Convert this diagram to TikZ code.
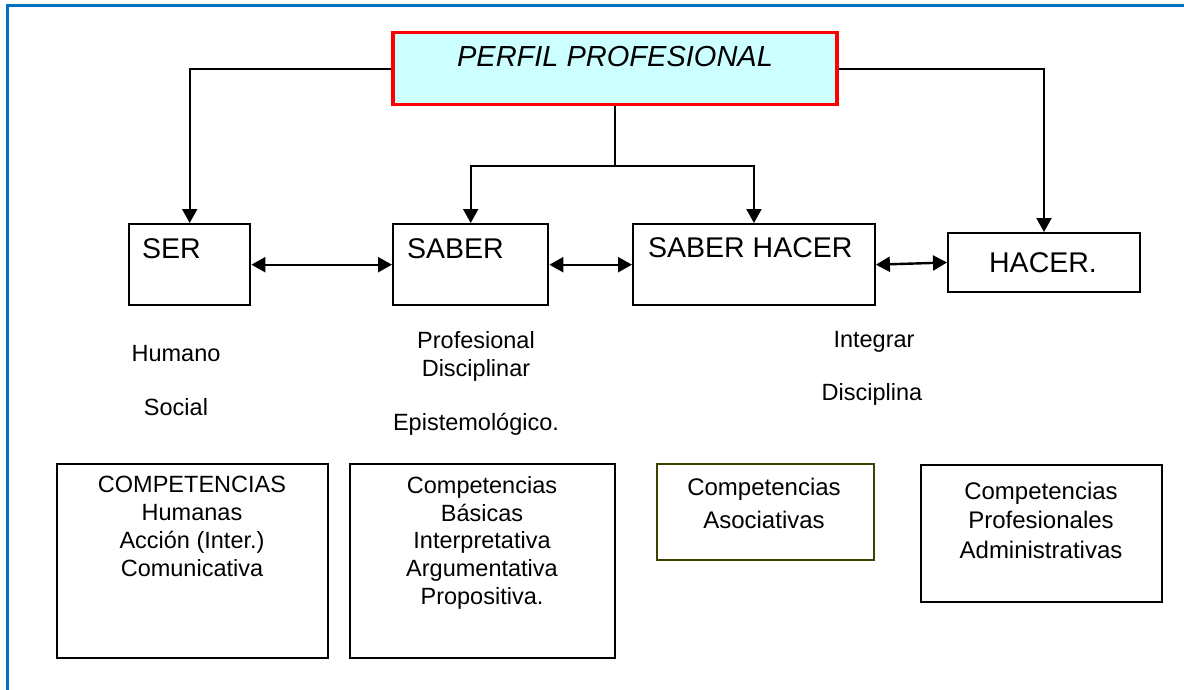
\documentclass[tikz,border=0pt]{standalone}
\usepackage{fontspec}
\setmainfont{Liberation Sans}
\usetikzlibrary{arrows.meta}
\definecolor{framecol}{RGB}{0,112,192}
\definecolor{perfilfill}{RGB}{204,255,255}
\definecolor{perfilred}{RGB}{255,0,0}
\definecolor{boxolive}{RGB}{64,64,0}
\tikzset{
  box/.style={draw, line width=2.4pt, inner sep=0pt, anchor=north west},
  head/.style={font=\fontsize{28.5}{34}\selectfont, inner sep=0pt},
  midtxt/.style={font=\fontsize{23.5}{28}\selectfont, inner sep=0pt, anchor=base},
  body/.style={font=\fontsize{23.5}{27.8}\selectfont, inner sep=0pt, align=center, anchor=north},
  bodybig/.style={inner sep=0pt, align=center, anchor=north},
  link/.style={line width=2pt},
  arr/.style={line width=2pt, -{Triangle[length=14pt,width=15pt]}},
  dbl/.style={line width=2.4pt, {Triangle[length=14pt,width=15pt]}-{Triangle[length=14pt,width=15pt]}},
}
\begin{document}
\begin{tikzpicture}[x=1pt,y=-1pt]
\useasboundingbox (0,0) rectangle (1184,690);
% frame
\draw[framecol, line width=3pt] (7,690) -- (7,6) -- (1184,6);

% top box
\node[box, draw=perfilred, fill=perfilfill, line width=3.5pt, minimum width=444, minimum height=72] (perfil) at (391,31) {};
\node[anchor=base, inner sep=0pt, font=\itshape\fontsize{29}{35}\selectfont] (perfilt) at (615,67) {PERFIL PROFESIONAL};

% second row boxes
\node[box, minimum width=121, minimum height=81] (ser) at (128,223) {};
\node[box, minimum width=155, minimum height=81] (saber) at (392,223) {};
\node[box, minimum width=241.5, minimum height=81] (sh) at (632,223) {};
\node[box, line width=2pt, minimum width=192, minimum height=59] (hacer) at (947,232) {};

\node[head, anchor=base west] (sert) at (142,258) {SER};
\node[head, anchor=base west] (sabert) at (407,258) {SABER};
\node[head, anchor=base west] (sht) at (648,257) {SABER HACER};
\node[head, anchor=base] (hacert) at (1043,272) {HACER.};

% tree connectors
\draw[arr] (perfil.west) -| (ser.north);
\draw[arr] (perfil.east) -| (hacer.north);
\coordinate (mid) at ([yshift=-60pt]perfil.south);
\draw[link] (perfil.south) -- (mid);
\draw[arr] (mid) -| (saber.north);
\draw[arr] (mid) -| (sh.north);

% double arrows
\draw[dbl] (ser.east) -- (saber.west);
\draw[dbl] (saber.east) -- (sh.west);
\draw[dbl] (sh.east) -- (hacer.west);

% middle labels
\node[midtxt] (humano) at (176,361) {Humano};
\node[midtxt] (social) at (176,415) {Social};
\node[midtxt] (prof) at (476,348) {Profesional};
\node[midtxt] (disc) at (476,376) {Disciplinar};
\node[midtxt] (epis) at (476,430.5) {Epistemológico.};
\node[midtxt] (integ) at (874,347) {Integrar};
\node[midtxt] (discl) at (872,400) {Disciplina};

% bottom boxes
\node[box, minimum width=271, minimum height=194] (c1) at (56,463) {};
\node[box, minimum width=265, minimum height=194] (c2) at (349,463) {};
\node[box, draw=boxolive, minimum width=217, minimum height=96] (c3) at (656,463) {};
\node[box, line width=2pt, minimum width=241, minimum height=137] (c4) at (920,464) {};

\node[body] (c1t) at (192,476) {COMPETENCIAS\\Humanas\\Acción (Inter.)\\Comunicativa};
\node[body] (c2t) at (482,476) {Competencias\\Básicas\\Interpretativa\\Argumentativa\\Propositiva.};
\node[bodybig, font=\fontsize{24}{33}\selectfont] (c3t) at (764,478) {Competencias\\Asociativas};
\node[bodybig, font=\fontsize{24}{29.5}\selectfont] (c4t) at (1041,481.5) {Competencias\\Profesionales\\Administrativas};
\end{tikzpicture}
\end{document}
